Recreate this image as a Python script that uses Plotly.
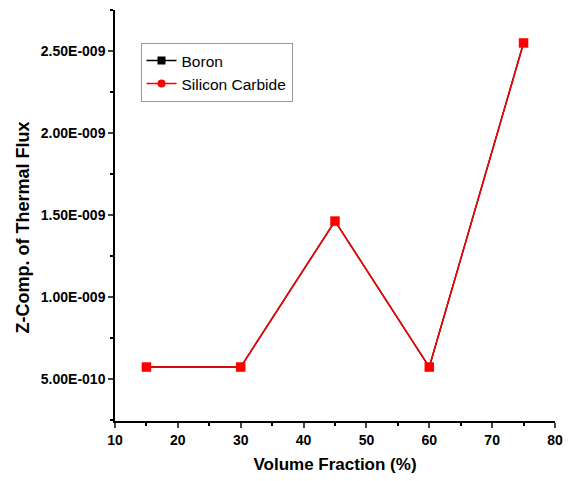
import plotly.graph_objects as go

volume_fraction = [15, 30, 45, 60, 75]
boron = [5.73e-10, 5.73e-10, 1.463e-9, 5.73e-10, 2.549e-9]
silicon_carbide = [5.73e-10, 5.73e-10, 1.463e-9, 5.73e-10, 2.549e-9]
y_tickvals = [5e-10, 1e-9, 1.5e-9, 2e-9, 2.5e-9]
y_ticktext = ["5.00E-010", "1.00E-009", "1.50E-009", "2.00E-009", "2.50E-009"]
x_tickvals = [10, 20, 30, 40, 50, 60, 70, 80]

FONT = "Liberation Sans, Arial, sans-serif"

fig = go.Figure()
fig.add_trace(go.Scatter(x=volume_fraction, y=boron, name="Boron", mode="lines+markers",
                         line=dict(color="black", width=1.5),
                         marker=dict(symbol="square", size=8, color="black")))
fig.add_trace(go.Scatter(x=volume_fraction, y=silicon_carbide, name="Silicon Carbide", mode="lines+markers",
                         line=dict(color="red", width=1.5),
                         marker=dict(symbol="circle", size=8, color="red")))
fig.add_trace(go.Scatter(x=volume_fraction, y=silicon_carbide, mode="markers", showlegend=False,
                         marker=dict(symbol="square", size=9.5, color="red")))

fig.update_layout(
    width=573, height=481,
    margin=dict(l=115, r=15, t=10, b=60),
    paper_bgcolor="white", plot_bgcolor="white",
    font=dict(family=FONT, color="black"),
    showlegend=True,
    legend=dict(x=0.058, y=0.92, xanchor="left", yanchor="top",
                bgcolor="white", bordercolor="#999999", borderwidth=1,
                font=dict(size=15.5, family=FONT),
                tracegroupgap=0, itemwidth=30),
    xaxis=dict(range=[10, 80], tickvals=x_tickvals, ticks="outside", ticklen=5, tickwidth=1.5,
               showline=True, linecolor="black", linewidth=1.5, showgrid=False, zeroline=False,
               tickfont=dict(size=14, family=FONT, weight="bold"),
               minor=dict(dtick=5, ticks="outside", ticklen=3, tickwidth=1.5, tickcolor="black"),
               title=dict(text="<b>Volume Fraction (%)</b>", font=dict(size=17), standoff=12)),
    yaxis=dict(range=[2.44e-10, 2.75e-9], tickvals=y_tickvals, ticktext=y_ticktext,
               ticks="outside", ticklen=5, tickwidth=1.5,
               showline=True, linecolor="black", linewidth=1.5, showgrid=False, zeroline=False,
               tickfont=dict(size=14, family=FONT, weight="bold"),
               minor=dict(tickvals=[2.5e-10, 7.5e-10, 1.25e-9, 1.75e-9, 2.25e-9, 2.75e-9], ticks="outside", ticklen=3, tickwidth=1.5, tickcolor="black")),
    annotations=[dict(text="<b>Z-Comp. of Thermal Flux</b>", xref="paper", yref="paper",
                      x=-0.21, y=0.47, xanchor="center", yanchor="middle", textangle=-90,
                      showarrow=False, font=dict(size=18, family=FONT, color="black"))],
)
fig.write_html("out.html")
